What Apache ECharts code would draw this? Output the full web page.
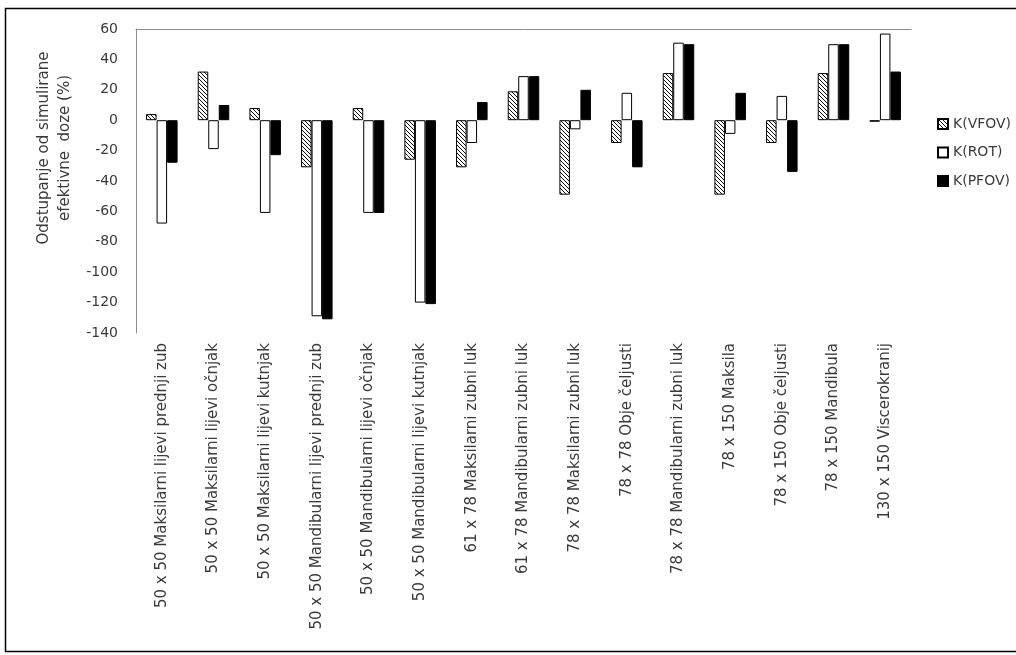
<!DOCTYPE html>
<html>
<head>
<meta charset="utf-8">
<script src="https://cdn.jsdelivr.net/npm/echarts@6/dist/echarts.min.js"></script>
<style>
html,body{margin:0;padding:0;background:#fff;}
#chart{width:1016px;height:655px;}
</style>
</head>
<body>
<div id="chart"></div>
<script>
const categories = [
  "50 x 50 Maksilarni lijevi prednji zub",
  "50 x 50 Maksilarni lijevi očnjak",
  "50 x 50 Maksilarni lijevi kutnjak",
  "50 x 50 Mandibularni lijevi prednji zub",
  "50 x 50 Mandibularni lijevi očnjak",
  "50 x 50 Mandibularni lijevi kutnjak",
  "61 x 78 Maksilarni zubni luk",
  "61 x 78 Mandibularni zubni luk",
  "78 x 78 Maksilarni zubni luk",
  "78 x 78 Obje čeljusti",
  "78 x 78 Mandibularni zubni luk",
  "78 x 150 Maksila",
  "78 x 150 Obje čeljusti",
  "78 x 150 Mandibula",
  "130 x 150 Viscerokranij"
];
const seriesNames = ["K(VFOV)", "K(ROT)", "K(PFOV)"];
const vfov = [4, 32, 8, -31, 8, -26, -31, 19, -49, -15, 31, -49, -15, 31, -1];
const rot  = [-68, -19, -61, -129, -61, -120, -15, 29, -6, 18, 51, -9, 16, 50, 57];
const pfov = [-28, 10, -23, -131, -61, -121, 12, 29, 20, -31, 50, 18, -34, 50, 32];
const yTicks = { min: -140, max: 60, interval: 20 };
const yTitle = "Odstupanje od simulirane\nefektivne  doze (%)";

// hatch pattern
const pc = document.createElement('canvas');
pc.width = 4; pc.height = 4;
const ctx = pc.getContext('2d');
ctx.fillStyle = '#fff';
ctx.fillRect(0, 0, 4, 4);
ctx.strokeStyle = '#111';
ctx.lineWidth = 1;
ctx.beginPath();
ctx.moveTo(-1, -1); ctx.lineTo(5, 5);
ctx.moveTo(-1, 3); ctx.lineTo(1, 5);
ctx.moveTo(3, -1); ctx.lineTo(5, 1);
ctx.stroke();

const FONT = 'DejaVu Sans';
const TXT = '#3a3a3a';
const chart = echarts.init(document.getElementById('chart'));
const barBase = { type: 'bar', barGap: '0%', barCategoryGap: '39%', xAxisIndex: 0 };
chart.setOption({
  animation: false,
  textStyle: { fontFamily: FONT },
  grid: { left: 136, right: 105, top: 29, bottom: 322 },
  legend: {
    orient: 'vertical', left: 932, top: 112, itemWidth: 10, itemHeight: 10, itemGap: 14.5,
    icon: 'rect',
    textStyle: { fontFamily: FONT, fontSize: 14, color: TXT },
    data: seriesNames
  },
  xAxis: [
    {
      type: 'category', data: categories, position: 'bottom',
      axisLine: { show: false }, axisTick: { show: false },
      axisLabel: { rotate: 90, interval: 0, margin: 10, fontFamily: FONT, fontSize: 15, color: TXT }
    },
    {
      type: 'category', data: categories, position: 'top',
      axisLine: { show: true, onZero: true, lineStyle: { color: '#8c8c8c', width: 1 } },
      axisTick: { show: false }, axisLabel: { show: false }
    }
  ],
  yAxis: {
    type: 'value', min: yTicks.min, max: yTicks.max, interval: yTicks.interval,
    name: yTitle, nameLocation: 'middle', nameGap: 60, nameRotate: 90,
    nameTextStyle: { fontFamily: FONT, fontSize: 15, color: TXT, lineHeight: 21, padding: [0, 0, 0, 66] },
    axisLine: { show: true, lineStyle: { color: '#8c8c8c' } },
    axisTick: { show: false },
    splitLine: { show: false },
    axisLabel: { fontFamily: FONT, fontSize: 14, color: TXT, margin: 18 }
  },
  series: [
    Object.assign({}, barBase, { name: seriesNames[0], data: vfov,
      itemStyle: { color: { image: pc, repeat: 'repeat' }, borderColor: '#000', borderWidth: 1 } }),
    Object.assign({}, barBase, { name: seriesNames[1], data: rot,
      itemStyle: { color: '#fff', borderColor: '#000', borderWidth: 1 } }),
    Object.assign({}, barBase, { name: seriesNames[2], data: pfov,
      itemStyle: { color: '#000', borderColor: '#000', borderWidth: 1 } })
  ],
  graphic: [{
    type: 'rect', silent: true, z: 100,
    shape: { x: 5.5, y: 8.5, width: 1040, height: 643 },
    style: { fill: 'none', stroke: '#000', lineWidth: 1.5 }
  }]
});
</script>
</body>
</html>
